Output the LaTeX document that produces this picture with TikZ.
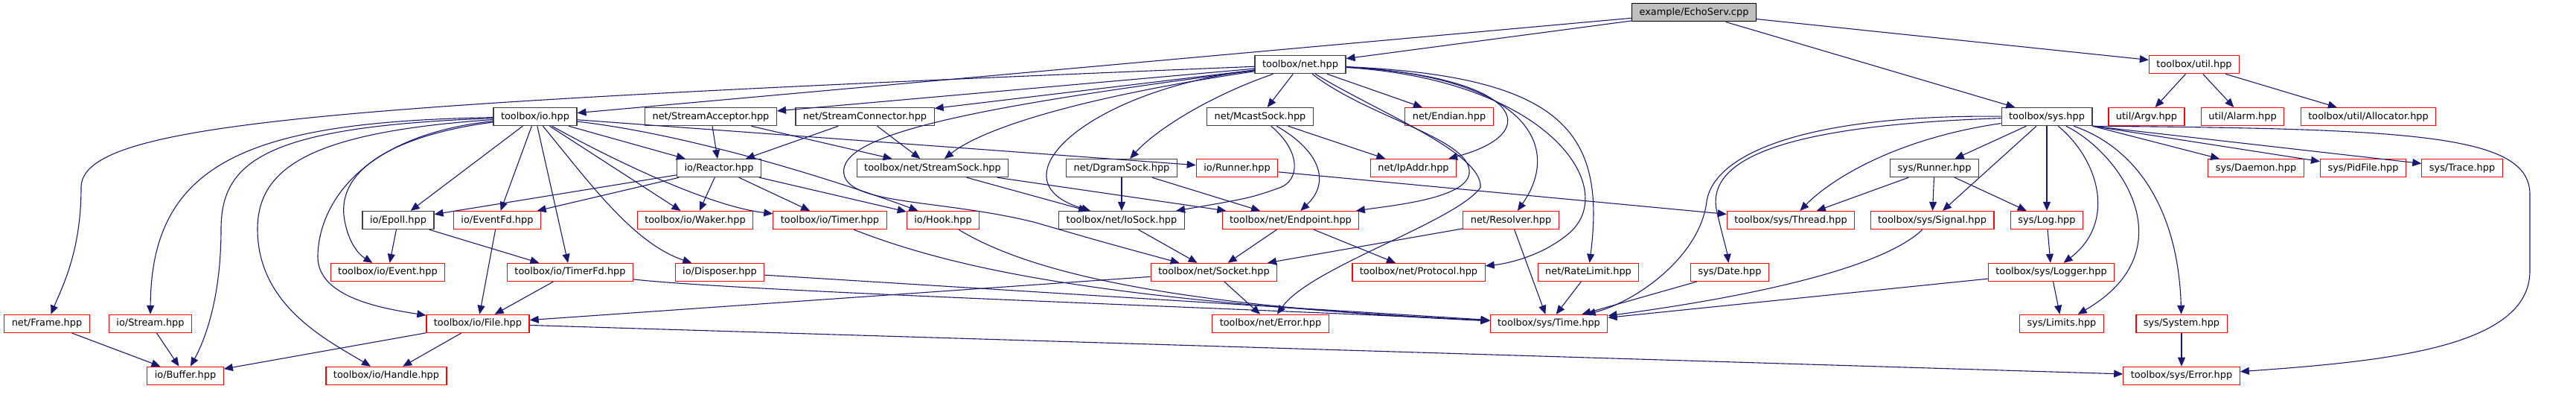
\documentclass[tikz,border=0pt]{standalone}
\usepackage{fontspec}
\setmainfont{DejaVu Sans}
\usetikzlibrary{arrows.meta}
\definecolor{edgeblue}{HTML}{191970}
\definecolor{boxred}{HTML}{FF0000}
\definecolor{boxgrey}{HTML}{BFBFBF}
\definecolor{boxline}{HTML}{404040}

\begin{document}
\begin{tikzpicture}[x=1pt,y=0.932pt,>={Triangle[length=12pt,width=10pt]},
  hdr/.style={draw=boxline,fill=white,line width=1.2pt,minimum height=24pt,
    inner xsep=10pt,inner ysep=0pt,font=\fontsize{12.9}{15}\selectfont},
  trunc/.style={hdr,draw=boxred},
  src/.style={hdr,draw=black,fill=boxgrey},
  dep/.style={->,edgeblue,line width=1.1pt}]
  \useasboundingbox (0,-40.8) rectangle (3461,560.1);

  \node[src] (echo) at (2276,542) {example/EchoServ.cpp};
  \node[hdr] (net) at (1747,467) {toolbox/net.hpp};
  \node[trunc] (util) at (2948,467) {toolbox/util.hpp};

  \node[hdr] (io) at (719,392) {toolbox/io.hpp};
  \node[hdr] (acc) at (955,392) {net/StreamAcceptor.hpp};
  \node[hdr] (conn) at (1162,392) {net/StreamConnector.hpp};
  \node[hdr] (mcast) at (1693,392) {net/McastSock.hpp};
  \node[trunc] (endian) at (1947,392) {net/Endian.hpp};
  \node[hdr] (sys) at (2750,392) {toolbox/sys.hpp};
  \node[trunc] (argv) at (2884,392) {util/Argv.hpp};
  \node[trunc] (alarm) at (3013,392) {util/Alarm.hpp};
  \node[trunc] (alloc) at (3182,392) {toolbox/util/Allocator.hpp};

  \node[hdr] (reactor) at (966,318) {io/Reactor.hpp};
  \node[hdr] (ssock) at (1253,318) {toolbox/net/StreamSock.hpp};
  \node[hdr] (dgram) at (1507,318) {net/DgramSock.hpp};
  \node[trunc] (iorun) at (1662,318) {io/Runner.hpp};
  \node[trunc] (ipaddr) at (1899,318) {net/IpAddr.hpp};
  \node[hdr] (sysrun) at (2599,318) {sys/Runner.hpp};
  \node[trunc] (daemon) at (3031,318) {sys/Daemon.hpp};
  \node[trunc] (pidfile) at (3175,318) {sys/PidFile.hpp};
  \node[trunc] (trace) at (3308,318) {sys/Trace.hpp};

  \node[hdr] (epoll) at (535,243) {io/Epoll.hpp};
  \node[trunc] (eventfd) at (668,243) {io/EventFd.hpp};
  \node[trunc] (waker) at (934,243) {toolbox/io/Waker.hpp};
  \node[trunc] (timer) at (1115,243) {toolbox/io/Timer.hpp};
  \node[trunc] (hook) at (1267,243) {io/Hook.hpp};
  \node[hdr] (iosock) at (1507,243) {toolbox/net/IoSock.hpp};
  \node[trunc] (endpoint) at (1734,243) {toolbox/net/Endpoint.hpp};
  \node[trunc] (resolver) at (2030,243) {net/Resolver.hpp};
  \node[trunc] (thread) at (2406,243) {toolbox/sys/Thread.hpp};
  \node[trunc] (signal) at (2596,243) {toolbox/sys/Signal.hpp};
  \node[trunc] (log) at (2750,243) {sys/Log.hpp};

  \node[trunc] (event) at (521,168) {toolbox/io/Event.hpp};
  \node[trunc] (timerfd) at (766,168) {toolbox/io/TimerFd.hpp};
  \node[trunc] (disposer) at (967,168) {io/Disposer.hpp};
  \node[trunc] (socket) at (1631,168) {toolbox/net/Socket.hpp};
  \node[trunc] (protocol) at (1906,168) {toolbox/net/Protocol.hpp};
  \node[trunc] (ratelimit) at (2134,168) {net/RateLimit.hpp};
  \node[trunc] (date) at (2324,168) {sys/Date.hpp};
  \node[trunc] (logger) at (2756,168) {toolbox/sys/Logger.hpp};

  \node[trunc] (frame) at (63,94) {net/Frame.hpp};
  \node[trunc] (stream) at (202,94) {io/Stream.hpp};
  \node[trunc] (file) at (642,94) {toolbox/io/File.hpp};
  \node[trunc] (neterr) at (1707,94) {toolbox/net/Error.hpp};
  \node[trunc] (time) at (2081,94) {toolbox/sys/Time.hpp};
  \node[trunc] (limits) at (2770,94) {sys/Limits.hpp};
  \node[trunc] (system) at (2931,94) {sys/System.hpp};

  \node[trunc] (buffer) at (249,19) {io/Buffer.hpp};
  \node[trunc] (handle) at (519,19) {toolbox/io/Handle.hpp};
  \node[trunc] (syserr) at (2931,19) {toolbox/sys/Error.hpp};

  \draw[dep] (echo) -- (net);
  \draw[dep] (echo) -- (io);
  \draw[dep] (echo) -- (sys);
  \draw[dep] (echo) -- (util);
  \draw[dep] (util) -- (argv);
  \draw[dep] (util) -- (alarm);
  \draw[dep] (util) -- (alloc);

  \draw[dep] (net) .. controls (450,410) and (109,385) .. (109,290)
    .. controls (109,200) and (85,150) .. (frame);
  \draw[dep] (net) -- (acc);
  \draw[dep] (net) -- (conn);
  \draw[dep] (net) -- (mcast);
  \draw[dep] (net) -- (endian);
  \draw[dep] (net) .. controls (1450,420) and (1320,375) .. (ssock);
  \draw[dep] (net) .. controls (1620,420) and (1550,370) .. (dgram);
  \draw[dep] (net) .. controls (1460,430) and (1330,300) .. (iosock);
  \draw[dep] (net) .. controls (1839,390) and (1979,360) .. (1974,310)
    .. controls (1969,275) and (1877,265) .. (endpoint);
  \draw[dep] (net) .. controls (2042,450) and (2080,370) .. (ipaddr);
  \draw[dep] (net) .. controls (2051,450) and (2100,350) .. (resolver);
  \draw[dep] (net) .. controls (2080,445) and (2177,290) .. (2109,225)
    .. controls (2071,190) and (2022,180) .. (protocol);
  \draw[dep] (net) .. controls (2100,450) and (2158,370) .. (ratelimit);
  \draw[dep] (net) .. controls (1848,400) and (1993,340) .. (1989,290)
    .. controls (1955,240) and (1760,175) .. (neterr);
  \draw[dep] (net) .. controls (1300,405) and (1115,365) .. (1135,305)
    .. controls (1150,265) and (1270,272) .. (1390,240)
    .. controls (1480,212) .. (socket);

  \draw[dep] (io) .. controls (340,385) and (203,330) .. (stream);
  \draw[dep] (io) .. controls (360,378) and (297,330) .. (297,230)
    .. controls (297,130) and (275,70) .. (buffer);
  \draw[dep] (io) .. controls (420,370) and (346,320) .. (346,230)
    .. controls (346,120) and (440,70) .. (handle);
  \draw[dep] (io) .. controls (480,365) and (427,260) .. (427,190)
    .. controls (427,130) and (520,115) .. (file);
  \draw[dep] (io) .. controls (560,370) and (455,330) .. (462,250)
    .. controls (466,215) and (480,195) .. (event);
  \draw[dep] (io) -- (epoll);
  \draw[dep] (io) -- (eventfd);
  \draw[dep] (io) -- (timerfd);
  \draw[dep] (io) .. controls (790,300) and (850,210) .. (disposer);
  \draw[dep] (io) -- (waker);
  \draw[dep] (io) .. controls (840,320) and (960,262) .. (timer);
  \draw[dep] (io) -- (reactor);
  \draw[dep] (io) .. controls (940,365) and (1150,290) .. (hook);
  \draw[dep] (io) -- (iorun);

  \draw[dep] (acc) -- (reactor);
  \draw[dep] (acc) -- (ssock);
  \draw[dep] (conn) -- (reactor);
  \draw[dep] (conn) -- (ssock);
  \draw[dep] (mcast) .. controls (1750,340) and (1745,300) .. (1720,290)
    .. controls (1680,275) .. (iosock);
  \draw[dep] (mcast) .. controls (1770,345) and (1790,300) .. (endpoint);
  \draw[dep] (mcast) -- (ipaddr);

  \draw[dep] (sys) .. controls (2429,395) and (2303,340) .. (2293,270)
    .. controls (2284,190) and (2197,125) .. (time);
  \draw[dep] (sys) .. controls (2409,380) and (2284,335) .. (2308,250)
    .. controls (2313,225) and (2320,200) .. (date);
  \draw[dep] (sys) .. controls (2544,360) and (2458,300) .. (thread);
  \draw[dep] (sys) -- (sysrun);
  \draw[dep] (sys) -- (signal);
  \draw[dep] (sys) -- (log);
  \draw[dep] (sys) .. controls (2820,330) and (2844,240) .. (logger);
  \draw[dep] (sys) .. controls (2849,340) and (2940,200) .. (limits);
  \draw[dep] (sys) .. controls (2876,345) and (2927,250) .. (system);
  \draw[dep] (sys.south east) -- (daemon);
  \draw[dep] (sys.south east) -- (pidfile);
  \draw[dep] (sys.south east) -- (trace);
  \draw[dep] (sys.south east) .. controls (3250,375) and (3399,365) .. (3399,280)
    -- (3399,170) .. controls (3399,60) and (3207,40) .. (syserr);

  \draw[dep] (reactor) -- (epoll);
  \draw[dep] (reactor) -- (eventfd);
  \draw[dep] (reactor) -- (waker);
  \draw[dep] (reactor) -- (timer);
  \draw[dep] (reactor) -- (hook);
  \draw[dep] (ssock) -- (iosock);
  \draw[dep] (ssock) -- (endpoint);
  \draw[dep] (dgram) -- (iosock);
  \draw[dep] (dgram) -- (endpoint);
  \draw[dep] (iorun) -- (thread);
  \draw[dep] (sysrun) -- (thread);
  \draw[dep] (sysrun) -- (signal);
  \draw[dep] (sysrun) -- (log);

  \draw[dep] (epoll) -- (event);
  \draw[dep] (epoll) -- (timerfd);
  \draw[dep] (eventfd) -- (file);
  \draw[dep] (timer) .. controls (1300,165) and (1520,125) .. (time);
  \draw[dep] (hook) .. controls (1380,170) and (1560,120) .. (time);
  \draw[dep] (iosock) -- (socket);
  \draw[dep] (endpoint) -- (socket);
  \draw[dep] (endpoint) -- (protocol);
  \draw[dep] (resolver) -- (socket);
  \draw[dep] (resolver) -- (time);
  \draw[dep] (signal) .. controls (2525,170) and (2332,130) .. (time);
  \draw[dep] (log) -- (logger);

  \draw[dep] (timerfd) -- (file);
  \draw[dep] (timerfd) .. controls (1000,140) and (1700,115) .. (time);
  \draw[dep] (disposer) -- (time);
  \draw[dep] (socket) -- (file);
  \draw[dep] (socket) -- (neterr);
  \draw[dep] (ratelimit) -- (time);
  \draw[dep] (date) -- (time);
  \draw[dep] (logger) -- (limits);
  \draw[dep] (logger) -- (time);

  \draw[dep] (frame) -- (buffer);
  \draw[dep] (stream) -- (buffer);
  \draw[dep] (file) -- (buffer);
  \draw[dep] (file) -- (handle);
  \draw[dep] (file) -- (syserr);
  \draw[dep] (system) -- (syserr);
\end{tikzpicture}
\end{document}
